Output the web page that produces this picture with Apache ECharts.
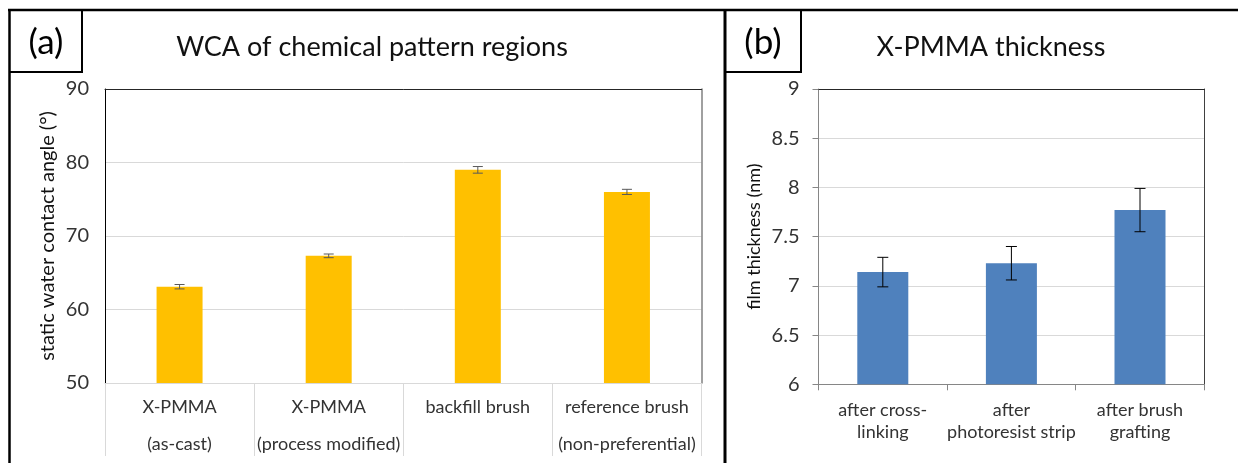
<!DOCTYPE html>
<html>
<head>
<meta charset="utf-8">
<script src="https://cdn.jsdelivr.net/npm/echarts@6/dist/echarts.min.js"></script>
<style>
  html, body { margin: 0; padding: 0; background: #fff; }
  #chart { width: 1238px; height: 463px; }
</style>
</head>
<body>
<div id="chart"></div>
<script>
// Panel (a): static water contact angle of the chemical pattern regions
const wcaCategories = ['X-PMMA\n(as-cast)', 'X-PMMA\n(process modified)', 'backfill brush', 'reference brush\n(non-preferential)'];
const wcaValues = [63.1, 67.3, 79.0, 76.0];
const wcaErrors = [0.3, 0.25, 0.45, 0.35];
const wcaAxisRange = [50, 90];
const wcaAxisStep = 10;

// Panel (b): X-PMMA film thickness through the process
const thicknessCategories = ['after cross-\nlinking', 'after\nphotoresist strip', 'after brush\ngrafting'];
const thicknessValues = [7.14, 7.23, 7.77];
const thicknessErrors = [0.15, 0.17, 0.22];
const thicknessAxisRange = [6, 9];
const thicknessAxisStep = 0.5;

const FONT = 'Lato';
const chart = echarts.init(document.getElementById('chart'), null, { renderer: 'canvas' });

// whisker drawn from value ± error, with short horizontal caps
function errorBarRenderer(color, capHalf) {
  return function (params, api) {
    const idx = api.value(0);
    const v = api.value(1);
    const e = api.value(2);
    const hi = api.coord([idx, v + e]);
    const lo = api.coord([idx, v - e]);
    const style = { stroke: color, lineWidth: 1 };
    return {
      type: 'group',
      children: [
        { type: 'line', shape: { x1: hi[0], y1: hi[1], x2: lo[0], y2: lo[1] }, style },
        { type: 'line', shape: { x1: hi[0] - capHalf, y1: hi[1], x2: hi[0] + capHalf, y2: hi[1] }, style },
        { type: 'line', shape: { x1: lo[0] - capHalf, y1: lo[1], x2: lo[0] + capHalf, y2: lo[1] }, style }
      ]
    };
  };
}

const tickLabel = { fontFamily: FONT, color: '#333333' };

const option = {
  animation: false,
  backgroundColor: '#fff',
  title: [
    {
      text: 'WCA of chemical pattern regions',
      left: 367, top: 29, textAlign: 'center',
      textStyle: { fontFamily: FONT, fontSize: 27, fontWeight: 'normal', color: '#111' }
    },
    {
      text: 'X-PMMA thickness',
      left: 986, top: 29, textAlign: 'center',
      textStyle: { fontFamily: FONT, fontSize: 27, fontWeight: 'normal', color: '#111' }
    }
  ],
  grid: [
    { left: 105, top: 89, right: 536.5, bottom: 78 },
    { left: 818.5, top: 89, right: 33.7, bottom: 78.7 }
  ],
  xAxis: [
    {
      type: 'category', gridIndex: 0, data: wcaCategories,
      axisLine: { lineStyle: { color: '#d9d9d9', width: 1 } },
      axisTick: { show: true, interval: 0, length: 73, lineStyle: { color: '#d9d9d9' } },
      axisLabel: Object.assign({ fontSize: 18, lineHeight: 37, margin: 6, interval: 0 }, tickLabel)
    },
    {
      // top frame of panel (a)
      type: 'category', gridIndex: 0, position: 'top', data: wcaCategories,
      axisLine: { lineStyle: { color: '#262626', width: 1 } },
      axisTick: { show: false }, axisLabel: { show: false }
    },
    {
      type: 'category', gridIndex: 1, data: thicknessCategories,
      axisLine: { lineStyle: { color: '#868686', width: 1 } },
      axisTick: { show: true, interval: 0, length: 6, lineStyle: { color: '#868686' } },
      axisLabel: Object.assign({ fontSize: 18, lineHeight: 22, margin: 15, interval: 0 }, tickLabel)
    },
    {
      // top frame of panel (b)
      type: 'category', gridIndex: 1, position: 'top', data: thicknessCategories,
      axisLine: { lineStyle: { color: '#262626', width: 1 } },
      axisTick: { show: false }, axisLabel: { show: false }
    }
  ],
  yAxis: [
    {
      type: 'value', gridIndex: 0,
      min: wcaAxisRange[0], max: wcaAxisRange[1], interval: wcaAxisStep,
      name: 'static water contact angle (°)', nameLocation: 'middle', nameGap: 47,
      nameTextStyle: { fontFamily: FONT, fontSize: 20, color: '#111' },
      axisLine: { show: true, lineStyle: { color: '#000', width: 1 } },
      axisTick: { show: false },
      splitLine: { lineStyle: { color: '#d9d9d9' } },
      axisLabel: Object.assign({ fontSize: 20, margin: 16 }, tickLabel)
    },
    {
      // right frame of panel (a)
      type: 'value', gridIndex: 0, position: 'right',
      min: wcaAxisRange[0], max: wcaAxisRange[1], interval: wcaAxisStep,
      axisLine: { show: true, lineStyle: { color: '#808080', width: 1.5 } },
      axisTick: { show: false }, axisLabel: { show: false }, splitLine: { show: false }
    },
    {
      type: 'value', gridIndex: 1,
      min: thicknessAxisRange[0], max: thicknessAxisRange[1], interval: thicknessAxisStep,
      name: 'film thickness (nm)', nameLocation: 'middle', nameGap: 55,
      nameTextStyle: { fontFamily: FONT, fontSize: 18, color: '#111' },
      axisLine: { show: true, lineStyle: { color: '#868686', width: 1 } },
      axisTick: { show: true, length: 6, lineStyle: { color: '#868686' } },
      splitLine: { lineStyle: { color: '#d9d9d9' } },
      axisLabel: Object.assign({ fontSize: 20, margin: 19 }, tickLabel)
    },
    {
      // right frame of panel (b)
      type: 'value', gridIndex: 1, position: 'right',
      min: thicknessAxisRange[0], max: thicknessAxisRange[1], interval: thicknessAxisStep,
      axisLine: { show: true, lineStyle: { color: '#404040', width: 1 } },
      axisTick: { show: false }, axisLabel: { show: false }, splitLine: { show: false }
    }
  ],
  series: [
    {
      type: 'bar', xAxisIndex: 0, yAxisIndex: 0, data: wcaValues,
      barWidth: 46, itemStyle: { color: '#FFC000' }
    },
    {
      type: 'custom', xAxisIndex: 0, yAxisIndex: 0,
      data: wcaValues.map((v, i) => [i, v, wcaErrors[i]]),
      encode: { x: 0, y: 1 },
      renderItem: errorBarRenderer('#595959', 5), z: 5
    },
    {
      type: 'bar', xAxisIndex: 2, yAxisIndex: 2, data: thicknessValues,
      barWidth: 51, itemStyle: { color: '#4F81BD' }
    },
    {
      type: 'custom', xAxisIndex: 2, yAxisIndex: 2,
      data: thicknessValues.map((v, i) => [i, v, thicknessErrors[i]]),
      encode: { x: 0, y: 1 },
      renderItem: errorBarRenderer('#000', 5.5), z: 5
    }
  ],
  graphic: [
    // outer figure frame and panel divider
    { type: 'line', shape: { x1: 8, y1: 10, x2: 1238, y2: 10 }, style: { stroke: '#000', lineWidth: 2.5 } },
    { type: 'line', shape: { x1: 9.5, y1: 9, x2: 9.5, y2: 463 }, style: { stroke: '#000', lineWidth: 2.5 } },
    { type: 'line', shape: { x1: 725, y1: 9, x2: 725, y2: 463 }, style: { stroke: '#000', lineWidth: 3 } },
    // panel tag boxes
    { type: 'polyline', shape: { points: [[9.5, 72], [82, 72], [82, 10]] }, style: { stroke: '#000', lineWidth: 2, fill: null } },
    { type: 'polyline', shape: { points: [[725, 72], [801, 72], [801, 10]] }, style: { stroke: '#000', lineWidth: 2, fill: null } },
    { type: 'text', x: 46, y: 43, style: { text: '(a)', font: '35px ' + FONT, fill: '#000', align: 'center', verticalAlign: 'middle' } },
    { type: 'text', x: 763, y: 43, style: { text: '(b)', font: '35px ' + FONT, fill: '#000', align: 'center', verticalAlign: 'middle' } }
  ]
};

chart.setOption(option);
</script>
</body>
</html>
